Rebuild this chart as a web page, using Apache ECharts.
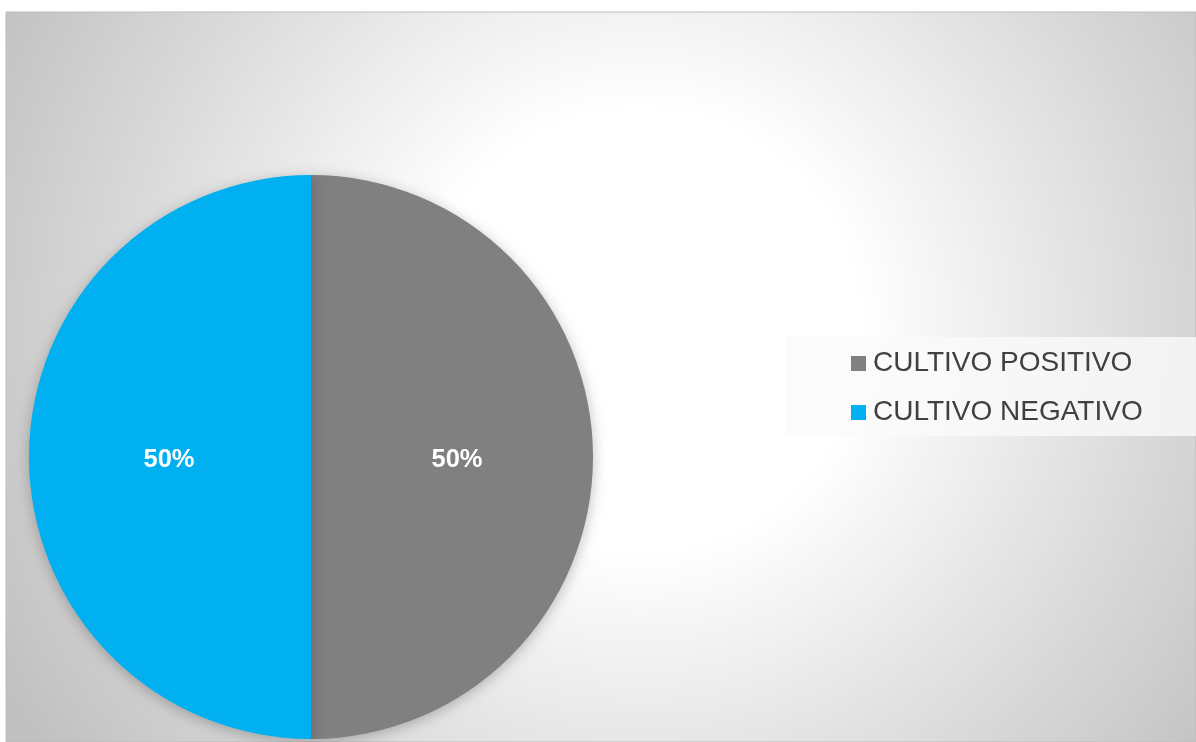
<!DOCTYPE html>
<html>
<head>
<meta charset="utf-8">
<style>
  html, body { margin: 0; padding: 0; background: #ffffff; }
  #chart { width: 1196px; height: 742px; }
</style>
<script src="https://cdn.jsdelivr.net/npm/echarts@6/dist/echarts.min.js"></script>
</head>
<body>
<div id="chart"></div>
<script>
// Culture results: share of positive vs negative cultures
const categories = ['CULTIVO POSITIVO', 'CULTIVO NEGATIVO'];
const counts = [50, 50];
const sliceColors = ['#808080', '#00B0F0'];

const chart = echarts.init(document.getElementById('chart'), null, { renderer: 'canvas' });

const pieData = categories.map((name, i) => ({
  name: name,
  value: counts[i],
  itemStyle: { color: sliceColors[i] }
}));

chart.setOption({
  animation: false,
  graphic: [
    {
      type: 'rect',
      z: -10,
      shape: { x: 6, y: 12, width: 1190, height: 730 },
      style: {
        fill: {
          type: 'radial',
          x: 0.533, y: 0.436, r: 1.0,
          colorStops: [
            { offset: 0, color: '#ffffff' },
            { offset: 0.3, color: '#ffffff' },
            { offset: 0.7, color: '#dadada' },
            { offset: 1, color: '#c0c0c0' }
          ]
        },
        stroke: '#bdbdbd',
        lineWidth: 1
      }
    },
    {
      type: 'rect',
      z: -5,
      shape: { x: 786, y: 337, width: 410, height: 99 },
      style: { fill: 'rgba(250,250,250,0.8)' }
    }
  ],
  legend: {
    orient: 'vertical',
    left: 846,
    top: 344,
    itemWidth: 15,
    itemHeight: 15,
    itemGap: 20,
    icon: 'rect',
    textStyle: {
      fontFamily: 'Liberation Sans, Arial, sans-serif',
      fontSize: 28,
      color: '#404040',
      lineHeight: 29,
      padding: [0, 0, 0, 2]
    },
    data: categories
  },
  series: [
    {
      type: 'pie',
      center: [311, 457],
      radius: [0, 282],
      startAngle: 90,
      clockwise: true,
      silent: true,
      itemStyle: {
        borderWidth: 0,
        shadowBlur: 14,
        shadowColor: 'rgba(0,0,0,0.25)',
        shadowOffsetY: 3
      },
      label: {
        show: true,
        position: 'inside',
        formatter: '{d}%',
        fontFamily: 'Liberation Sans, Arial, sans-serif',
        fontSize: 25.5,
        fontWeight: 'bold',
        color: '#ffffff',
        offset: [2, 3]
      },
      labelLine: { show: false },
      data: pieData
    }
  ]
});
</script>
</body>
</html>
